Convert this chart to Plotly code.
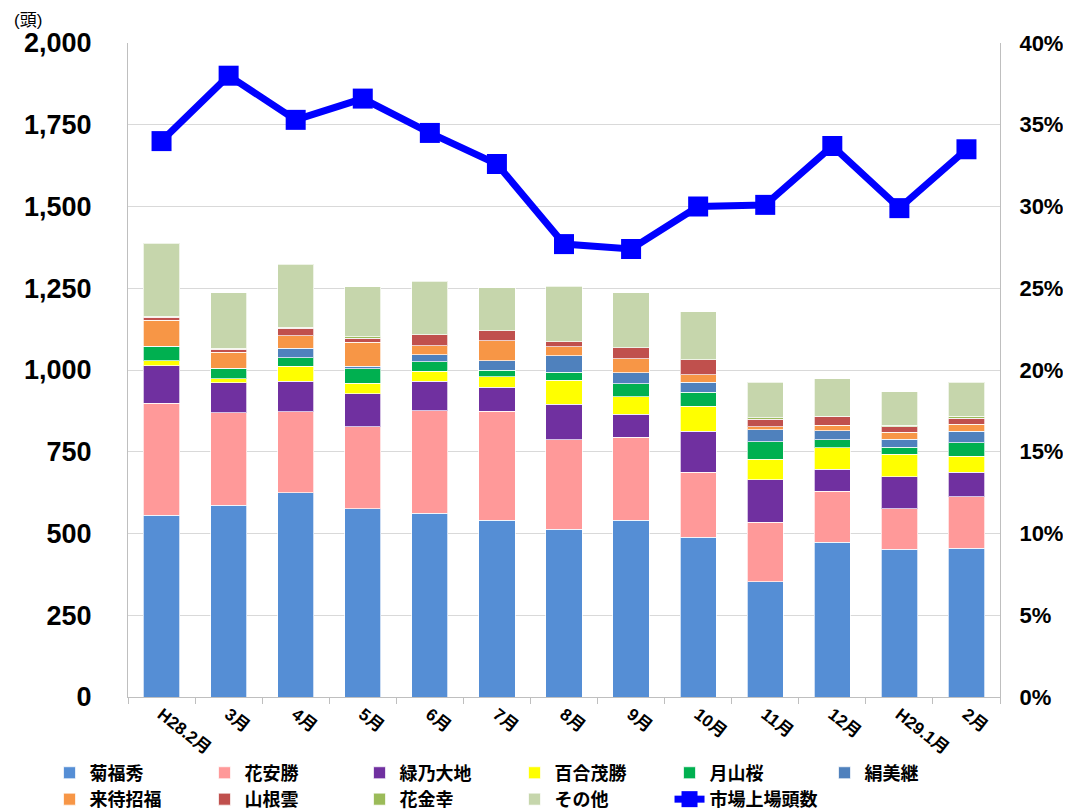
import plotly.graph_objects as go

categories = ["H28.2月", "3月", "4月", "5月", "6月", "7月", "8月", "9月", "10月", "11月", "12月", "H29.1月", "2月"]

kikufukuhide = [556, 586, 624, 575, 562, 540, 513, 540, 489, 352, 474, 452, 455]
hanayasukatsu = [343, 283, 249, 252, 314, 334, 273, 254, 198, 183, 155, 123, 158]
midorinodaichi = [114, 92, 93, 101, 89, 74, 110, 70, 125, 130, 68, 98, 74]
yurishigekatsu = [15, 12, 46, 32, 31, 32, 73, 54, 77, 62, 65, 69, 50]
gassanzakura = [44, 32, 26, 44, 30, 19, 24, 40, 43, 53, 25, 22, 40]
kinumitsugu = [0, 0, 28, 8, 20, 30, 50, 33, 30, 37, 27, 25, 36]
kimachishoufuku = [80, 49, 38, 73, 28, 60, 28, 44, 23, 9, 17, 20, 21]
yamaneun = [10, 10, 24, 12, 34, 31, 16, 33, 47, 23, 26, 17, 18]
hanakaneyuki = [3, 3, 2, 5, 0, 0, 0, 0, 0, 5, 2, 5, 7]
sonota = [222, 170, 194, 153, 163, 132, 169, 168, 146, 109, 114, 102, 103]

market_share = [0.340, 0.380, 0.353, 0.366, 0.345, 0.326, 0.277, 0.274, 0.300, 0.301, 0.337, 0.299, 0.335]

left_ticks = [0, 250, 500, 750, 1000, 1250, 1500, 1750, 2000]
right_ticks = [0, 0.05, 0.10, 0.15, 0.20, 0.25, 0.30, 0.35, 0.40]

series = [
    ("菊福秀", kikufukuhide, "#558ED5"),
    ("花安勝", hanayasukatsu, "#FF9999"),
    ("緑乃大地", midorinodaichi, "#7030A0"),
    ("百合茂勝", yurishigekatsu, "#FFFF00"),
    ("月山桜", gassanzakura, "#00B050"),
    ("絹美継", kinumitsugu, "#4F81BD"),
    ("来待招福", kimachishoufuku, "#F79646"),
    ("山根雲", yamaneun, "#C0504D"),
    ("花金幸", hanakaneyuki, "#9BBB59"),
    ("その他", sonota, "#C6D6AC"),
]

FONT = "Liberation Sans, Noto Sans CJK JP, sans-serif"

fig = go.Figure()
for name, vals, color in series:
    fig.add_trace(go.Bar(
        x=categories, y=vals, name=name,
        marker=dict(color=color, line=dict(color="rgba(255,255,255,0.7)", width=1)),
        yaxis="y",
    ))

fig.add_trace(go.Scatter(
    x=categories, y=market_share, name="市場上場頭数",
    mode="lines+markers",
    line=dict(color="#0000FF", width=7),
    marker=dict(symbol="square", size=20, color="#0000FF"),
    yaxis="y2",
))

fig.update_layout(
    width=1063, height=803,
    barmode="stack", bargap=0.46,
    paper_bgcolor="white", plot_bgcolor="white",
    margin=dict(l=120, r=71, t=35, b=114, autoexpand=False),
    font=dict(family=FONT, color="#000000"),
    xaxis=dict(
        type="category", automargin=False,
        range=[-0.5, 12.5],
        showline=True, linecolor="#BFBFBF", linewidth=1,
        ticks="outside", tickson="boundaries", ticklen=6, tickcolor="#BFBFBF",
        tickangle=38,
        tickfont=dict(family=FONT, size=17, weight="bold"),
        showgrid=False,
    ),
    yaxis=dict(
        range=[0, 2000], tickvals=left_ticks, tickformat=",",
        automargin=False,
        showgrid=True, gridcolor="#D9D9D9", gridwidth=1,
        showline=True, linecolor="#BFBFBF", linewidth=1,
        zeroline=False,
        tickfont=dict(family=FONT, size=27, weight="bold"),
        ticklabelstandoff=30,
    ),
    yaxis2=dict(
        range=[0, 0.4], tickvals=right_ticks, tickformat=".0%",
        automargin=False,
        overlaying="y", side="right",
        showgrid=False, zeroline=False,
        showline=True, linecolor="#BFBFBF", linewidth=1,
        tickfont=dict(family=FONT, size=22, weight="bold"),
        ticklabelstandoff=14,
    ),
    legend=dict(
        orientation="h",
        x=-0.09, xanchor="left",
        y=-0.088, yanchor="top",
        entrywidth=110, entrywidthmode="pixels",
        font=dict(family=FONT, size=18, weight="bold"),
        traceorder="normal",
        itemwidth=30,
        tracegroupgap=0,
    ),
    showlegend=True,
    annotations=[dict(
        text="(頭)", xref="paper", yref="paper",
        x=-0.133, y=1.052, xanchor="left", yanchor="top",
        showarrow=False, font=dict(family=FONT, size=17),
    )],
)

fig.write_html("out.html")
